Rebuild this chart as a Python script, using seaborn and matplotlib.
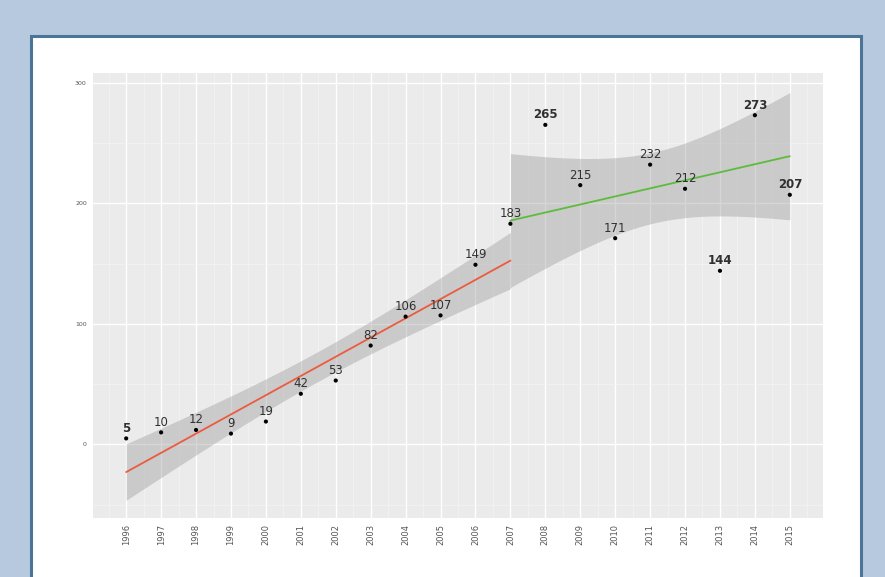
import numpy as np
import pandas as pd
import matplotlib
matplotlib.use("Agg")
import matplotlib.pyplot as plt
from matplotlib.patches import Rectangle
import seaborn as sns

# Yearly counts
years = [1996, 1997, 1998, 1999, 2000, 2001, 2002, 2003, 2004, 2005,
         2006, 2007, 2008, 2009, 2010, 2011, 2012, 2013, 2014, 2015]
counts = [5, 10, 12, 9, 19, 42, 53, 82, 106, 107,
          149, 183, 265, 215, 171, 232, 212, 144, 273, 207]
bold_labels = [1996, 2008, 2013, 2014, 2015]

# Two trend periods; outlying years left out of the second fit
period1 = (1996, 2007)
period2 = (2007, 2015)
period2_excluded = [2008, 2013]

y_ticks = [0, 100, 200, 300]

df = pd.DataFrame({"year": years, "count": counts})

sns.set_theme(style="darkgrid")
fig = plt.figure(figsize=(8.85, 5.77), dpi=100)
fig.patch.set_facecolor("#b6c9de")

# White framed panel holding the chart
fig.patches.append(Rectangle((31 / 885, -0.05), (861 - 31) / 885, 1.05 - 36 / 577,
                             transform=fig.transFigure, facecolor="white",
                             edgecolor="#4a7597", linewidth=2.2, zorder=-5))

ax = fig.add_axes([93 / 885, 1 - 518 / 577, (823 - 93) / 885, (518 - 73) / 577])
ax.set_zorder(2)
ax.set_facecolor("#ebebeb")
for s in ax.spines.values():
    s.set_visible(False)


def fit_band(sub, t_crit):
    x = sub["year"].to_numpy(float)
    y = sub["count"].to_numpy(float)
    n = len(x)
    b, a = np.polyfit(x, y, 1)
    xs = np.linspace(x.min(), x.max(), 80)
    yhat = a + b * xs
    resid = y - (a + b * x)
    s = np.sqrt((resid ** 2).sum() / (n - 2))
    se = s * np.sqrt(1 / n + (xs - x.mean()) ** 2 / ((x - x.mean()) ** 2).sum())
    return xs, yhat, yhat - t_crit * se, yhat + t_crit * se


sub1 = df[(df.year >= period1[0]) & (df.year <= period1[1])]
sub2 = df[(df.year >= period2[0]) & (df.year <= period2[1]) & (~df.year.isin(period2_excluded))]

t_vals = {10: 2.228, 5: 2.571}
for sub, color in [(sub1, "#ec5b3f"), (sub2, "#5dbb3f")]:
    xs, yhat, lo, hi = fit_band(sub, t_vals[len(sub) - 2])
    ax.fill_between(xs, lo, hi, color="#999999", alpha=0.4, linewidth=0, zorder=2)
    sns.lineplot(x=xs, y=yhat, ax=ax, color=color, linewidth=1.3, zorder=3)

sns.scatterplot(data=df, x="year", y="count", ax=ax, color="black", s=9,
                edgecolor="none", zorder=4)

for yr, c in zip(years, counts):
    ax.annotate(str(c), (yr, c), xytext=(0, 2.5), textcoords="offset points",
                ha="center", va="bottom", fontsize=8.5, color="#303030",
                fontweight="bold" if yr in bold_labels else "normal", zorder=5)

ax.set_xlim(1995.05, 2015.95)
ax.set_ylim(-61, 308)
ax.set_xticks(years)
ax.set_xticklabels([str(y) for y in years], rotation=90, fontsize=6, color="#555555")
ax.set_xticks(np.arange(1995.5, 2016, 1.0), minor=True)
ax.set_yticks(y_ticks)
ax.set_yticklabels([str(v) for v in y_ticks], fontsize=4.5, color="#555555")
ax.set_yticks([-50, 50, 150, 250], minor=True)
ax.grid(which="major", color="white", linewidth=1.0)
ax.grid(which="minor", color="#f5f5f5", linewidth=0.5)
ax.tick_params(axis="both", which="major", length=2.5, color="#555555", pad=2)
ax.tick_params(axis="both", which="minor", length=0)
ax.set_xlabel("")
ax.set_ylabel("")

fig.savefig("out.png", dpi=100)
